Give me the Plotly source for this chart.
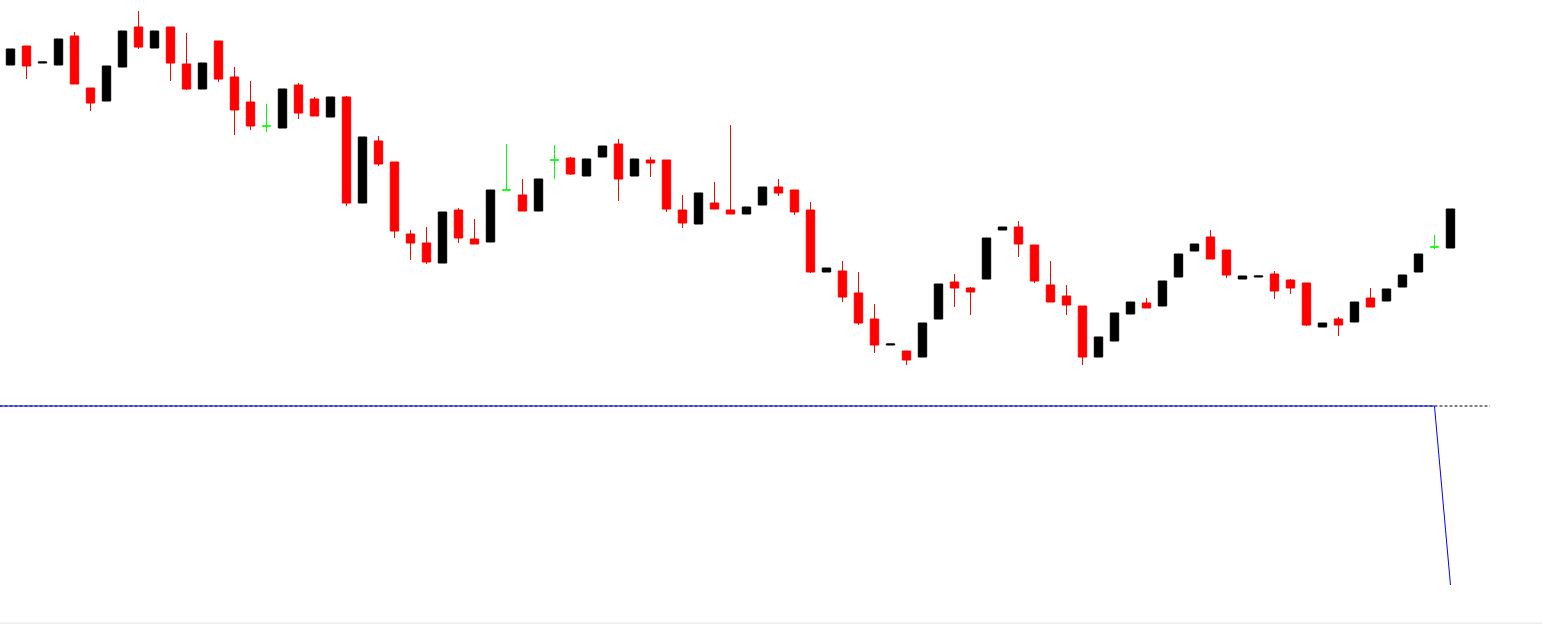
import pandas as pd
import plotly.graph_objects as go

# bar index (first visible bar = 1)
bars = list(range(1, 92))

opens = [
    1.1935, 1.1954, 1.1937, 1.1935, 1.1964, 1.1912, 1.1899, 1.1933, 1.1973, 1.1952,
    1.1973, 1.1936, 1.1911, 1.1959, 1.1923, 1.1898, 1.1874, 1.1872, 1.1915, 1.1901,
    1.1883, 1.1903, 1.1797, 1.1859, 1.1838, 1.1766, 1.1757, 1.1737, 1.1790, 1.1761,
    1.1758, 1.1810, 1.1805, 1.1789, 1.1840, 1.1842, 1.1824, 1.1843, 1.1856, 1.1824,
    1.1840, 1.1840, 1.1790, 1.1776, 1.1797, 1.1790, 1.1786, 1.1795, 1.1813, 1.1810,
    1.1790, 1.1728, 1.1729, 1.1707, 1.1681, 1.1655, 1.1649, 1.1643, 1.1681, 1.1718,
    1.1712, 1.1721, 1.1770, 1.1773, 1.1755, 1.1715, 1.1704, 1.1694, 1.1643, 1.1659,
    1.1686, 1.1697, 1.1694, 1.1723, 1.1749, 1.1763, 1.1750, 1.1721, 1.1723, 1.1726,
    1.1720, 1.1717, 1.1673, 1.1681, 1.1678, 1.1702, 1.1699, 1.1713, 1.1728, 1.1753,
    1.1752,
]
highs = [
    1.1951, 1.1954, 1.1938, 1.1961, 1.1968, 1.1912, 1.1934, 1.1969, 1.1989, 1.1969,
    1.1973, 1.1967, 1.1937, 1.1959, 1.1933, 1.1919, 1.1896, 1.1911, 1.1917, 1.1903,
    1.1903, 1.1904, 1.1863, 1.1864, 1.1838, 1.1770, 1.1773, 1.1788, 1.1792, 1.1781,
    1.1810, 1.1856, 1.1821, 1.1821, 1.1855, 1.1843, 1.1841, 1.1854, 1.1861, 1.1841,
    1.1843, 1.1840, 1.1805, 1.1807, 1.1818, 1.1875, 1.1793, 1.1813, 1.1821, 1.1810,
    1.1798, 1.1732, 1.1739, 1.1728, 1.1696, 1.1656, 1.1649, 1.1677, 1.1716, 1.1726,
    1.1713, 1.1762, 1.1773, 1.1779, 1.1755, 1.1739, 1.1715, 1.1694, 1.1663, 1.1687,
    1.1698, 1.1702, 1.1719, 1.1746, 1.1756, 1.1770, 1.1750, 1.1724, 1.1724, 1.1729,
    1.1721, 1.1717, 1.1677, 1.1683, 1.1698, 1.1712, 1.1711, 1.1725, 1.1746, 1.1765,
    1.1791,
]
lows = [
    1.1935, 1.1921, 1.1937, 1.1935, 1.1916, 1.1889, 1.1899, 1.1933, 1.1951, 1.1952,
    1.1919, 1.1910, 1.1911, 1.1918, 1.1865, 1.1870, 1.1868, 1.1872, 1.1881, 1.1884,
    1.1883, 1.1794, 1.1797, 1.1834, 1.1762, 1.1740, 1.1736, 1.1737, 1.1757, 1.1756,
    1.1758, 1.1810, 1.1789, 1.1789, 1.1821, 1.1825, 1.1824, 1.1843, 1.1799, 1.1824,
    1.1823, 1.1788, 1.1772, 1.1776, 1.1791, 1.1786, 1.1786, 1.1795, 1.1804, 1.1785,
    1.1727, 1.1728, 1.1698, 1.1675, 1.1647, 1.1655, 1.1635, 1.1643, 1.1681, 1.1693,
    1.1685, 1.1721, 1.1770, 1.1743, 1.1717, 1.1698, 1.1685, 1.1635, 1.1643, 1.1659,
    1.1686, 1.1692, 1.1694, 1.1723, 1.1749, 1.1741, 1.1722, 1.1721, 1.1723, 1.1701,
    1.1706, 1.1674, 1.1673, 1.1664, 1.1678, 1.1693, 1.1699, 1.1713, 1.1728, 1.1751,
    1.1752,
]
closes = [
    1.1951, 1.1934, 1.1938, 1.1961, 1.1916, 1.1897, 1.1934, 1.1969, 1.1953, 1.1969,
    1.1937, 1.1911, 1.1937, 1.1921, 1.1890, 1.1874, 1.1874, 1.1911, 1.1887, 1.1884,
    1.1903, 1.1797, 1.1863, 1.1836, 1.1769, 1.1757, 1.1738, 1.1788, 1.1762, 1.1756,
    1.1810, 1.1810, 1.1789, 1.1821, 1.1840, 1.1826, 1.1841, 1.1854, 1.1821, 1.1841,
    1.1837, 1.1791, 1.1777, 1.1807, 1.1791, 1.1786, 1.1793, 1.1813, 1.1807, 1.1788,
    1.1728, 1.1732, 1.1703, 1.1677, 1.1655, 1.1656, 1.1640, 1.1677, 1.1716, 1.1712,
    1.1708, 1.1762, 1.1773, 1.1756, 1.1719, 1.1698, 1.1695, 1.1643, 1.1663, 1.1687,
    1.1698, 1.1692, 1.1719, 1.1746, 1.1756, 1.1741, 1.1725, 1.1724, 1.1724, 1.1709,
    1.1712, 1.1675, 1.1677, 1.1675, 1.1698, 1.1693, 1.1711, 1.1725, 1.1746, 1.1753,
    1.1791,
]

# lower indicator window: starts one bar before the first visible candle
ind_bars = list(range(0, 92))
ind_values = [0.0] * 91 + [-1.79]
ind_level = 0.0

df = pd.DataFrame({"bar": bars, "open": opens, "high": highs, "low": lows, "close": closes})
up = df[df["close"] > df["open"]]
down = df[df["close"] < df["open"]]
doji = df[df["close"] == df["open"]]


def candles(d, color, width):
    return go.Candlestick(
        x=d["bar"], open=d["open"], high=d["high"], low=d["low"], close=d["close"],
        increasing=dict(line=dict(color=color, width=width), fillcolor=color),
        decreasing=dict(line=dict(color=color, width=width), fillcolor=color),
        whiskerwidth=0, hoverinfo="skip", showlegend=False,
        xaxis="x", yaxis="y",
    )


fig = go.Figure()
fig.add_trace(candles(up, "#000000", 1))
fig.add_trace(candles(down, "#FF0000", 1))
fig.add_trace(candles(doji, "#00FF00", 1))

fig.add_trace(go.Scatter(
    x=ind_bars, y=ind_values, mode="lines",
    line=dict(color="#0000FF", width=1),
    hoverinfo="skip", showlegend=False, xaxis="x2", yaxis="y2",
))

# dotted level line of the indicator window
fig.add_shape(
    type="line", xref="x2", yref="y2", x0=0, x1=93.47, y0=ind_level, y1=ind_level,
    line=dict(color="#000000", width=1, dash="3px,2px"), layer="below",
)
# window separator at the very bottom
fig.add_shape(
    type="line", xref="paper", yref="paper", x0=0, x1=1, y0=0.003, y1=0.003,
    line=dict(color="#e3e3e3", width=1),
)

xr = [0.34375, 96.72]
fig.update_layout(
    width=1542, height=625,
    margin=dict(l=0, r=0, t=0, b=0),
    paper_bgcolor="#FFFFFF", plot_bgcolor="#FFFFFF",
    boxgap=0.25,
    xaxis=dict(domain=[0, 1], range=xr, visible=False, rangeslider=dict(visible=False)),
    yaxis=dict(domain=[0.368, 1], range=[1.1605, 1.2000], visible=False),
    xaxis2=dict(domain=[0, 1], range=xr, visible=False, anchor="y2"),
    yaxis2=dict(domain=[0, 0.36], range=[-2.19, 0.06], visible=False, anchor="x2"),
)

# drop the browser's default page margin so the chart sits at the window corner
fig.write_html(
    "out.html",
    config={"displayModeBar": False},
    post_script="document.body.style.margin='0';document.body.style.overflow='hidden';",
)
